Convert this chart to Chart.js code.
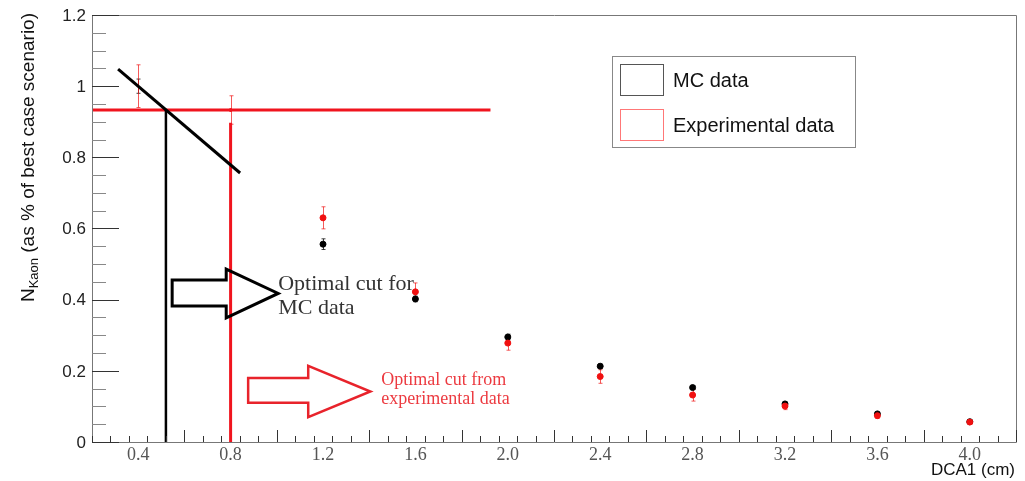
<!DOCTYPE html>
<html>
<head>
<meta charset="utf-8">
<script src="https://cdn.jsdelivr.net/npm/chart.js@4.4.0/dist/chart.umd.min.js"></script>
<style>
  html, body { margin: 0; padding: 0; background: #fff; }
  #wrap { width: 1025px; height: 481px; }
</style>
</head>
<body>
<div id="wrap"><canvas id="kaonChart" width="1025" height="481"></canvas></div>
<script>
// DCA1 cut values (cm) and kaon yields relative to the best case
const dca = [0.4, 0.8, 1.2, 1.6, 2.0, 2.4, 2.8, 3.2, 3.6, 4.0];
const mcYield = [1.0, null, 0.556, 0.402, 0.295, 0.213, 0.153, 0.107, 0.079, 0.057];
const mcErr = [0.02, null, 0.015, 0.008, 0.008, 0.006, 0.005, 0.005, 0.004, 0.003];
const expYield = [1.0, 0.933, 0.630, 0.422, 0.278, 0.184, 0.132, 0.101, 0.074, 0.056];
const expErr = [0.06, 0.04, 0.031, 0.025, 0.02, 0.019, 0.017, 0.01, 0.008, 0.006];

const xTickLabels = ['0.4', '0.8', '1.2', '1.6', '2.0', '2.4', '2.8', '3.2', '3.6', '4.0'];
const yTickLabels = ['0', '0.2', '0.4', '0.6', '0.8', '1', '1.2'];

// optimal cuts
const mcCut = 0.52;
const expCut = 0.8;
const cutLevel = 0.933;
const mcSlope = [[0.313, 1.048], [0.841, 0.756]];

const SANS = '"Liberation Sans", Arial, sans-serif';
const SERIF = '"Liberation Serif", "Times New Roman", serif';
const RED = '#f01010';

const toPoints = (xs, ys) => xs.map((x, i) => ({ x: x, y: ys[i] })).filter(p => p.y !== null);

// ROOT style axes, frame, error bars, arrows and notes
const rootStyle = {
  id: 'rootStyle',
  beforeDatasetsDraw(chart) {
    const c = chart.ctx;
    const xs = chart.scales.x, ys = chart.scales.y;

    // error bars under the markers
    const bars = (vals, errs, color) => {
      c.save();
      c.strokeStyle = color;
      c.lineWidth = 1;
      vals.forEach((v, i) => {
        if (v === null || !errs[i]) return;
        const px = Math.round(xs.getPixelForValue(dca[i])) + 0.5;
        const top = ys.getPixelForValue(v + errs[i]);
        const bot = ys.getPixelForValue(v - errs[i]);
        c.beginPath();
        c.moveTo(px, top); c.lineTo(px, bot);
        c.moveTo(px - 2, top); c.lineTo(px + 2, top);
        c.moveTo(px - 2, bot); c.lineTo(px + 2, bot);
        c.stroke();
      });
      c.restore();
    };
    bars(mcYield, mcErr, 'rgba(0,0,0,0.75)');
    bars(expYield, expErr, 'rgba(240,20,20,0.7)');
  },
  afterDatasetsDraw(chart) {
    const c = chart.ctx;
    const xs = chart.scales.x, ys = chart.scales.y;
    const a = chart.chartArea;
    c.save();

    // frame
    c.strokeStyle = '#777';
    c.lineWidth = 1;
    c.beginPath();
    c.moveTo(a.left + 0.5, a.bottom + 0.5);
    c.lineTo(a.left + 0.5, a.top + 0.5);
    c.lineTo(a.right + 0.5, a.top + 0.5);
    c.lineTo(a.right + 0.5, a.bottom + 0.5);
    c.closePath();
    c.stroke();

    // y ticks: major every 0.2, minor every 0.05
    for (let k = 0; k <= 24; k++) {
      const v = k * 0.05;
      const py = Math.round(ys.getPixelForValue(v)) + 0.5;
      const major = k % 4 === 0;
      c.strokeStyle = major ? '#333' : '#888';
      c.beginPath();
      c.moveTo(a.left, py);
      c.lineTo(a.left + (major ? 27 : 14), py);
      c.stroke();
    }
    // x ticks: major every 0.4 from 0.6, minor every 0.08
    for (let k = 0; k <= 50; k++) {
      const v = 0.2 + k * 0.08;
      if (v > xs.max + 1e-9) break;
      const px = Math.round(xs.getPixelForValue(v)) + 0.5;
      const major = k % 5 === 0 && k > 0;
      c.strokeStyle = '#333';
      c.beginPath();
      c.moveTo(px, a.bottom);
      c.lineTo(px, a.bottom - (major ? 12 : 6));
      c.stroke();
    }

    // tick labels
    c.fillStyle = '#222';
    c.font = '17px ' + SANS;
    c.textAlign = 'right';
    c.textBaseline = 'middle';
    yTickLabels.forEach(t => {
      c.fillText(t, a.left - 6, ys.getPixelForValue(parseFloat(t)) + 1);
    });
    c.fillStyle = '#555';
    c.font = '18px ' + SERIF;
    c.textAlign = 'center';
    c.textBaseline = 'alphabetic';
    xTickLabels.forEach(t => {
      c.fillText(t, xs.getPixelForValue(parseFloat(t)), a.bottom + 18);
    });

    // axis titles
    c.fillStyle = '#111';
    c.font = '17px ' + SANS;
    c.textAlign = 'right';
    c.fillText('DCA1 (cm)', a.right - 1, a.bottom + 33);

    c.save();
    const main = '19px ' + SANS, sub = '13px ' + SANS;
    c.font = main;
    const wN = c.measureText('N').width;
    const wRest = c.measureText(' (as % of best case scenario)').width;
    c.font = sub;
    const wSub = c.measureText('Kaon').width;
    const total = wN + wSub + wRest;
    c.translate(34, a.top - 2 + total);
    c.rotate(-Math.PI / 2);
    c.textAlign = 'left';
    c.font = main;
    c.fillText('N', 0, 0);
    c.font = sub;
    c.fillText('Kaon', wN, 4);
    c.font = main;
    c.fillText(' (as % of best case scenario)', wN + wSub, 0);
    c.restore();

    // block arrows, given in axis units
    const arrow = (x0, x1, x2, yb0, yb1, yh0, yh1, color, lw) => {
      const ym = (yh0 + yh1) / 2;
      const P = (x, y) => [xs.getPixelForValue(x), ys.getPixelForValue(y)];
      const pts = [P(x0, yb0), P(x1, yb0), P(x1, yh0), P(x2, ym), P(x1, yh1), P(x1, yb1), P(x0, yb1)];
      c.strokeStyle = color;
      c.lineWidth = lw;
      c.lineJoin = 'miter';
      c.beginPath();
      pts.forEach((p, i) => i ? c.lineTo(p[0], p[1]) : c.moveTo(p[0], p[1]));
      c.closePath();
      c.stroke();
    };
    arrow(0.547, 0.781, 1.006, 0.455, 0.382, 0.486, 0.349, '#000', 3);
    arrow(0.876, 1.136, 1.405, 0.180, 0.110, 0.214, 0.070, '#e8232b', 2.5);

    // notes
    c.textAlign = 'left';
    c.fillStyle = '#333';
    c.font = '22px ' + SERIF;
    c.fillText('Optimal cut for', xs.getPixelForValue(1.006), ys.getPixelForValue(0.427));
    c.fillText('MC data', xs.getPixelForValue(1.006), ys.getPixelForValue(0.360));
    c.fillStyle = '#ec3a40';
    c.font = '18px ' + SERIF;
    c.fillText('Optimal cut from', xs.getPixelForValue(1.452), ys.getPixelForValue(0.160));
    c.fillText('experimental data', xs.getPixelForValue(1.452), ys.getPixelForValue(0.107));

    // legend box
    const lx = 612, ly = 56, lw = 243, lh = 91;
    c.fillStyle = '#fff';
    c.fillRect(lx, ly, lw, lh);
    c.strokeStyle = '#888';
    c.lineWidth = 1;
    c.strokeRect(lx + 0.5, ly + 0.5, lw, lh);
    const entries = chart.data.datasets.filter(d => d.legendColor);
    entries.forEach((d, i) => {
      const ey = ly + 8 + i * 45;
      c.strokeStyle = d.legendColor;
      c.strokeRect(620.5, ey + 0.5, 43, 31);
      c.fillStyle = '#111';
      c.font = '20px ' + SANS;
      c.fillText(d.label, 673, ey + 23);
    });

    c.restore();
  }
};

new Chart(document.getElementById('kaonChart'), {
  type: 'scatter',
  data: {
    datasets: [
      {
        label: 'MC data',
        data: toPoints(dca, mcYield),
        legendColor: '#555',
        backgroundColor: '#000',
        borderColor: '#000',
        pointRadius: ctx => ctx.dataIndex === 0 ? 0 : 3,
        order: 2
      },
      {
        label: 'Experimental data',
        data: toPoints(dca, expYield),
        legendColor: '#f77',
        backgroundColor: RED,
        borderColor: RED,
        pointRadius: ctx => ctx.dataIndex === 0 ? 0 : (ctx.dataIndex === 1 ? 1.5 : 3),
        order: 1
      },
      {
        // MC slope through the cut
        data: mcSlope.map(p => ({ x: p[0], y: p[1] })),
        showLine: true, borderColor: '#000', borderWidth: 3, pointRadius: 0, order: 0
      },
      {
        data: [{ x: mcCut, y: 0 }, { x: mcCut, y: cutLevel }],
        showLine: true, borderColor: '#000', borderWidth: 2.5, pointRadius: 0, order: 0
      },
      {
        data: [{ x: 0.2, y: cutLevel }, { x: 1.925, y: cutLevel }],
        showLine: true, borderColor: '#f0141e', borderWidth: 3, pointRadius: 0, order: 0
      },
      {
        data: [{ x: expCut, y: 0 }, { x: expCut, y: 0.897 }],
        showLine: true, borderColor: '#f0141e', borderWidth: 3, pointRadius: 0, order: 0
      }
    ]
  },
  options: {
    responsive: false,
    animation: false,
    layout: { padding: { left: 92, right: 9, top: 15, bottom: 39 } },
    scales: {
      x: { type: 'linear', min: 0.2, max: 4.2, display: false },
      y: { type: 'linear', min: 0, max: 1.2, display: false }
    },
    plugins: {
      legend: { display: false },
      tooltip: { enabled: false }
    }
  },
  plugins: [rootStyle]
});
</script>
</body>
</html>
